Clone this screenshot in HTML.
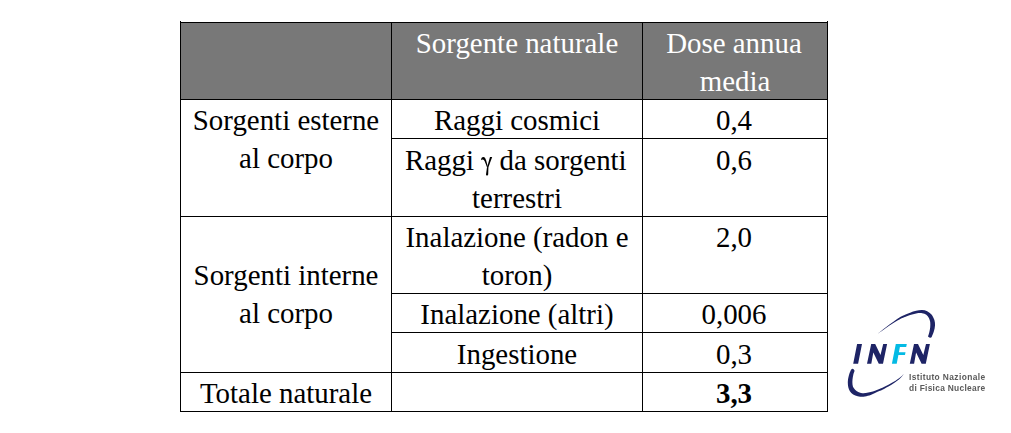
<!DOCTYPE html>
<html><head><meta charset="utf-8"><title>Sorgenti naturali di radiazione</title>
<style>
html,body{margin:0;padding:0;background:#fff;}
body{width:1011px;height:433px;position:relative;overflow:hidden;font-family:"Liberation Serif",serif;}
.hd{position:absolute;left:181px;top:23px;width:646px;height:76px;background:#787878;}
.h{position:absolute;height:1px;background:#000;}
.v{position:absolute;width:1px;background:#000;}
.t{position:absolute;font-size:28.9px;line-height:40px;height:40px;text-align:center;white-space:nowrap;color:#000;}
.t.w{color:#fff;}
.t.b{font-weight:bold;}
.t.g{margin-left:-1.2px;}
.gs{display:inline-block;width:11.2px;height:1px;}
.logo{position:absolute;left:0;top:0;}
.inf{position:absolute;left:909px;font-family:"Liberation Sans",sans-serif;font-size:8.4px;font-weight:bold;color:#5a5a5a;white-space:nowrap;line-height:10px;will-change:transform;}
</style></head><body>
<div class="hd"></div>

<div class="h" style="left:180px;top:22px;width:648px"></div>
<div class="h" style="left:180px;top:99px;width:648px"></div>
<div class="h" style="left:391px;top:138px;width:437px"></div>
<div class="h" style="left:180px;top:216px;width:648px"></div>
<div class="h" style="left:391px;top:293px;width:437px"></div>
<div class="h" style="left:391px;top:332px;width:437px"></div>
<div class="h" style="left:180px;top:372px;width:648px"></div>
<div class="h" style="left:180px;top:411px;width:648px"></div>
<div class="v" style="left:180px;top:21px;height:391px"></div>
<div class="v" style="left:391px;top:22px;height:390px"></div>
<div class="v" style="left:642px;top:22px;height:390px"></div>
<div class="v" style="left:827px;top:21px;height:391px"></div>
<div class="t w" style="left:392px;width:250px;top:23px">Sorgente naturale</div>
<div class="t w" style="left:642px;width:184px;top:23px">Dose annua</div>
<div class="t w" style="left:643px;width:184px;top:61px">media</div>
<div class="t " style="left:181px;width:210px;top:100px">Sorgenti esterne</div>
<div class="t " style="left:181px;width:210px;top:137.5px">al corpo</div>
<div class="t " style="left:392px;width:250px;top:100px">Raggi cosmici</div>
<div class="t " style="left:642px;width:184px;top:100px">0,4</div>
<div class="t g" style="left:392px;width:250px;top:140px">Raggi <span class="gs"></span> da sorgenti</div>
<div class="t " style="left:392px;width:250px;top:177.5px">terrestri</div>
<div class="t " style="left:642px;width:184px;top:140px">0,6</div>
<div class="t " style="left:392px;width:250px;top:217px">Inalazione (radon e</div>
<div class="t " style="left:392px;width:250px;top:254.5px">toron)</div>
<div class="t " style="left:642px;width:184px;top:217px">2,0</div>
<div class="t " style="left:181px;width:210px;top:255px">Sorgenti interne</div>
<div class="t " style="left:181px;width:210px;top:292.5px">al corpo</div>
<div class="t " style="left:392px;width:250px;top:293.5px">Inalazione (altri)</div>
<div class="t " style="left:642px;width:184px;top:294px">0,006</div>
<div class="t " style="left:392px;width:250px;top:334px">Ingestione</div>
<div class="t " style="left:642px;width:184px;top:334px">0,3</div>
<div class="t " style="left:181px;width:210px;top:373px">Totale naturale</div>
<div class="t b" style="left:642px;width:184px;top:373px">3,3</div>
<svg class="logo" width="1011" height="433" viewBox="0 0 1011 433">
<path fill="#1e2466" d="M878.30 333.20 C879.52 332.23 883.08 329.32 885.60 327.40 C888.12 325.48 890.82 323.50 893.40 321.70 C895.98 319.90 899.17 317.75 901.10 316.60 C903.03 315.45 903.50 315.45 905.00 314.80 C906.50 314.15 908.25 313.37 910.10 312.70 C911.95 312.03 914.10 311.25 916.10 310.80 C918.10 310.35 920.25 309.93 922.10 310.00 C923.95 310.07 925.63 310.45 927.20 311.20 C928.77 311.95 930.30 313.02 931.50 314.50 C932.70 315.98 933.82 318.27 934.40 320.10 C934.98 321.93 935.08 323.63 935.00 325.50 C934.92 327.37 934.42 329.47 933.90 331.30 C933.38 333.13 932.23 335.63 931.90 336.50 Q930.90 339.00 928.00 336.60 C928.22 335.88 928.93 333.87 929.30 332.30 C929.67 330.73 930.05 328.90 930.20 327.20 C930.35 325.50 930.42 323.65 930.20 322.10 C929.98 320.55 929.55 319.12 928.90 317.90 C928.25 316.68 927.43 315.58 926.30 314.80 C925.17 314.02 923.80 313.42 922.10 313.20 C920.40 312.98 918.10 313.18 916.10 313.50 C914.10 313.82 911.95 314.52 910.10 315.10 C908.25 315.68 906.50 316.42 905.00 317.00 C903.50 317.58 903.03 317.58 901.10 318.60 C899.17 319.62 895.98 321.48 893.40 323.10 C890.82 324.72 888.13 326.57 885.60 328.30 C883.07 330.03 879.43 332.63 878.20 333.50 Z"/>
<path fill="#1e2466" d="M854.60 370.70 Q852.9 367.0 850.90 369.90 C850.63 370.57 849.78 372.28 849.30 373.90 C848.82 375.52 848.23 377.85 848.00 379.60 C847.77 381.35 847.75 382.78 847.90 384.40 C848.05 386.02 848.33 387.88 848.90 389.30 C849.47 390.72 850.23 391.88 851.30 392.90 C852.37 393.92 853.82 394.77 855.30 395.40 C856.78 396.03 858.58 396.52 860.20 396.70 C861.82 396.88 863.25 396.78 865.00 396.50 C866.75 396.22 869.03 395.58 870.70 395.00 C872.37 394.42 873.45 393.70 875.00 393.00 C876.55 392.30 878.43 391.52 880.00 390.80 C881.57 390.08 882.12 389.97 884.40 388.70 C886.68 387.43 891.10 384.92 893.70 383.20 C896.30 381.48 898.32 379.95 900.00 378.40 C901.68 376.85 903.17 374.65 903.80 373.90 C903.17 374.48 901.68 376.10 900.00 377.40 C898.32 378.70 896.30 380.13 893.70 381.70 C891.10 383.27 886.68 385.62 884.40 386.80 C882.12 387.98 881.57 388.13 880.00 388.80 C878.43 389.47 876.55 390.25 875.00 390.80 C873.45 391.35 872.23 391.72 870.70 392.10 C869.17 392.48 867.42 392.97 865.80 393.10 C864.18 393.23 862.48 393.20 861.00 392.90 C859.52 392.60 858.12 392.10 856.90 391.30 C855.68 390.50 854.43 389.25 853.70 388.10 C852.97 386.95 852.70 385.82 852.50 384.40 C852.30 382.98 852.37 381.22 852.50 379.60 C852.63 377.98 852.95 376.18 853.30 374.70 C853.65 373.22 854.38 371.37 854.60 370.70 Z"/>
<path fill="#1e2466" d="M853.20 363.80 L857.10 344.00 L862.00 344.00 L858.10 363.80 Z M867.00 363.80 L871.20 344.00 L875.20 344.00 L880.50 355.10 L883.20 344.00 L887.10 344.00 L883.00 363.80 L878.80 363.80 L873.30 352.40 L871.30 363.80 Z M909.80 363.80 L914.00 344.00 L918.00 344.00 L923.30 355.10 L926.00 344.00 L929.90 344.00 L925.80 363.80 L921.60 363.80 L916.10 352.40 L914.10 363.80 Z"/>
<path fill="#04bae4" d="M891.90 363.80 L895.80 344.00 L906.80 344.00 L906.20 346.90 L899.90 346.90 L898.90 352.30 L905.50 352.30 L905.00 354.90 L898.40 354.90 L896.70 363.80 Z"/>
</svg>
<svg class="logo" width="1011" height="433" viewBox="0 0 1011 433">
<g fill="#000">
<path d="M481.0 160.3 C481.0 158.1 482.0 156.9 483.4 156.9 C484.8 156.9 485.6 158.5 486.2 160.5 L488.0 167.6 L487.1 167.6 L484.8 161.6 C484.3 160.3 483.6 159.5 482.7 159.5 C481.9 159.5 481.3 159.9 481.0 160.3 Z"/>
<path d="M490.0 157.0 L492.2 157.0 L488.3 167.6 L487.0 167.6 Z"/>
<path d="M487.0 167.3 L488.4 167.3 L488.2 174.2 C488.2 175.8 486.0 175.9 486.0 174.4 Z"/>
</g></svg>
<div class="inf" style="top:371.7px;letter-spacing:0.40px">Istituto Nazionale</div>
<div class="inf" style="top:383.3px;letter-spacing:0.29px">di Fisica Nucleare</div>

</body></html>
